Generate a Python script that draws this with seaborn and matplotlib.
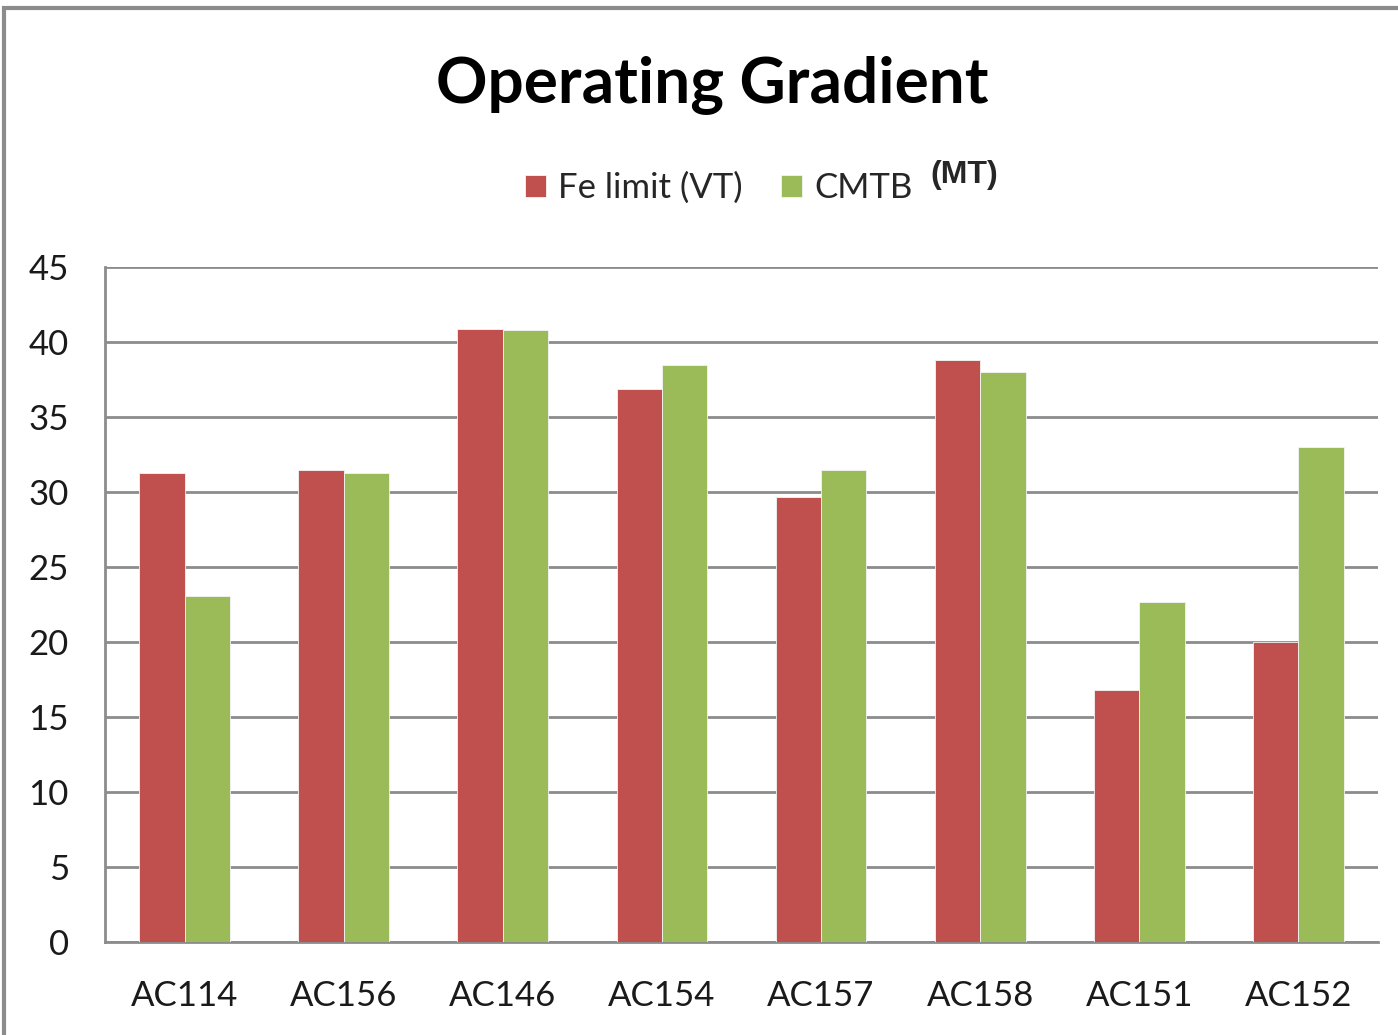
import pandas as pd
import seaborn as sns
import matplotlib.pyplot as plt
from matplotlib.patches import Rectangle
from matplotlib.ticker import FixedLocator

categories = ['AC114', 'AC156', 'AC146', 'AC154', 'AC157', 'AC158', 'AC151', 'AC152']
fe_limit = [31.3, 31.5, 40.9, 36.9, 29.7, 38.8, 16.8, 20.0]
cmtb = [23.1, 31.3, 40.8, 38.5, 31.5, 38.0, 22.7, 33.0]
series_names = ['Fe limit (VT)', 'CMTB']
y_ticks = [0, 5, 10, 15, 20, 25, 30, 35, 40, 45]

df = pd.DataFrame({'Aircraft': categories * 2,
                   'Series': [series_names[0]] * len(categories) + [series_names[1]] * len(categories),
                   'Gradient': fe_limit + cmtb})

sns.set_style('white')
plt.rcParams['font.family'] = ['Lato', 'DejaVu Sans']

fig = plt.figure(figsize=(13.98, 10.35), dpi=100)
ax = fig.add_axes([105 / 1398, 1 - 942 / 1035, (1378 - 105) / 1398, (942 - 267) / 1035])

grid_col = '#8c8c8c'
sns.barplot(data=df, x='Aircraft', y='Gradient', hue='Series', ax=ax,
            palette=['#C0504D', '#9BBB59'], width=0.57, saturation=1,
            edgecolor='#f4f4f4', linewidth=0.6, zorder=3)

ax.set_ylim(0, 45)
ax.set_xlim(-0.5, len(categories) - 0.5)
ax.set_yticks(y_ticks)
ax.set_yticklabels([str(v) for v in y_ticks], fontsize=25)
ax.yaxis.grid(True, color=grid_col, linewidth=2, zorder=0)
ax.set_axisbelow(True)
ax.set_xlabel('')
ax.set_ylabel('')
ax.tick_params(axis='x', which='major', length=0, labelsize=25, pad=27)
ax.tick_params(axis='y', length=10, width=2, color=grid_col, pad=16)
ax.xaxis.set_minor_locator(FixedLocator([i - 0.5 for i in range(len(categories) + 1)]))
ax.tick_params(axis='x', which='minor', length=10, width=2, color=grid_col, direction='out')
for lbl in ax.get_xticklabels() + ax.get_yticklabels():
    lbl.set_color('#1a1a1a')

for side in ['top', 'right']:
    ax.spines[side].set_visible(False)
for side in ['left', 'bottom']:
    ax.spines[side].set_color(grid_col)
    ax.spines[side].set_linewidth(2)

sns.move_legend(ax, 'center', bbox_to_anchor=(719 / 1398, 1 - 188 / 1035), bbox_transform=fig.transFigure,
                ncol=2, frameon=False, title=None, fontsize=25,
                handlelength=0.6, handleheight=0.6, handletextpad=0.35, columnspacing=1.1)

fig.text(712 / 1398, 1 - 85 / 1035, 'Operating Gradient', ha='center', va='center',
         fontsize=46, fontweight='bold', color='black')
fig.text(930 / 1398, 1 - 175 / 1035, '(MT)', ha='left', va='center',
         fontsize=23, fontweight='bold', family=['Liberation Sans', 'DejaVu Sans'])

# outer chart frame
fig.patches.append(Rectangle((4 / 1398, -0.1), 1.2, 1 - 8 / 1035 + 0.1, transform=fig.transFigure,
                             fill=False, edgecolor='#8c8c8c', linewidth=3))

fig.savefig('out.png', dpi=100)
